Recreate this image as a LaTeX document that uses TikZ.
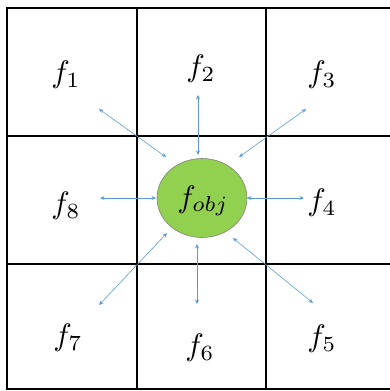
\documentclass[tikz,border=0pt]{standalone}
\usetikzlibrary{arrows.meta,shapes.geometric}
\definecolor{arrblue}{HTML}{5B9BD5}
\definecolor{objgreen}{HTML}{92D050}
\newcommand{\fl}[1]{\scalebox{3.1}{$f_{#1}$}}
\begin{document}
\begin{tikzpicture}[x=1pt,y=-1pt,
  gridline/.style={line width=1.3pt,black},
  lbl/.style={inner sep=0pt},
  link/.style={arrblue,line width=0.6pt,{Stealth[length=4.5pt,width=4pt]}-{Stealth[length=4.5pt,width=4pt]}}]
\useasboundingbox (0,0) rectangle (390,391);
% grid
\draw[gridline] (395,8) -- (7,8) -- (7,389) -- (395,389);
\draw[gridline] (137,8) -- (137,389);
\draw[gridline] (266,8) -- (266,389);
\draw[gridline] (7,136) -- (395,136);
\draw[gridline] (7,264) -- (395,264);
% center
\node[ellipse,draw=gray,fill=objgreen,minimum width=90pt,minimum height=79pt,inner sep=0pt,line width=0.6pt] (obj) at (202,198) {};
\node[lbl] (fobj) at (203,201) {\fl{obj}};
% labels
\node[lbl] (l1) at (66,75) {\fl{1}};
\node[lbl] (l2) at (201,69) {\fl{2}};
\node[lbl] (l3) at (322,75) {\fl{3}};
\node[lbl] (l8) at (66,206) {\fl{8}};
\node[lbl] (l4) at (322,203) {\fl{4}};
\node[lbl] (l7) at (68,338) {\fl{7}};
\node[lbl] (l6) at (200,348) {\fl{6}};
\node[lbl] (l5) at (322,339) {\fl{5}};
% arrow endpoints
\coordinate (o1) at (99,109);  \coordinate (i1) at (166,157);
\coordinate (o2) at (198,95);  \coordinate (i2) at (198,155);
\coordinate (o3) at (306,109); \coordinate (i3) at (239,157);
\coordinate (o4) at (304,198); \coordinate (i4) at (247,198);
\coordinate (o5) at (313,303); \coordinate (i5) at (233,238);
\coordinate (o6) at (197,304); \coordinate (i6) at (197,244);
\coordinate (o7) at (99,305);  \coordinate (i7) at (167,233);
\coordinate (o8) at (100,198); \coordinate (i8) at (156,198);
\foreach \k in {1,...,8} { \draw[link] (o\k) -- (i\k); }
\end{tikzpicture}
\end{document}
